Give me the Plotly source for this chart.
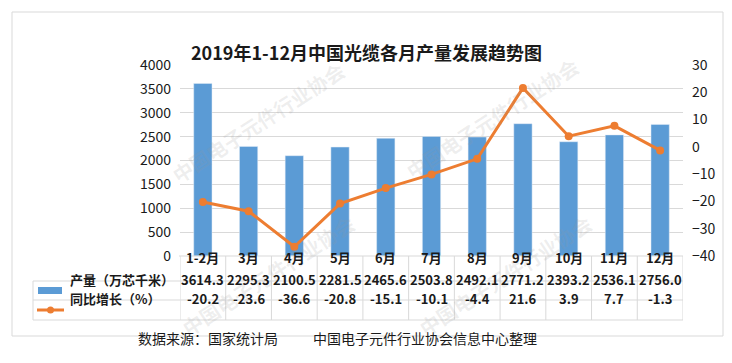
import plotly.graph_objects as go

categories = ["1-2月", "3月", "4月", "5月", "6月", "7月", "8月", "9月", "10月", "11月", "12月"]
production = [3614.3, 2295.3, 2100.5, 2281.5, 2465.6, 2503.8, 2492.1, 2771.2, 2393.2, 2536.1, 2756.0]
growth = [-20.2, -23.6, -36.6, -20.8, -15.1, -10.1, -4.4, 21.6, 3.9, 7.7, -1.3]
left_ticks = [0, 500, 1000, 1500, 2000, 2500, 3000, 3500, 4000]
right_ticks = [-40, -30, -20, -10, 0, 10, 20, 30]
series_names = ["产量（万芯千米）", "同比增长（%）"]

BLUE = "#5B9BD5"
ORANGE = "#ED7D31"
GRID = "#D9D9D9"
FONT = "Noto Sans CJK SC"
TEXT = "#1a1a1a"

OFF = 8  # page body margin
W, H = 732 - OFF, 363 - OFF
L, R, T, B = 180, 683, 65, 256  # in window pixels


def px(x):
    return (x - L) / (R - L)


def py(y):
    return (B - y) / (B - T)


fig = go.Figure()
fig.add_trace(go.Bar(x=categories, y=production, marker_color=BLUE, name=series_names[0],
                     width=0.4, showlegend=False))
fig.add_trace(go.Scatter(x=categories, y=growth, yaxis="y2", mode="lines+markers",
                         line=dict(color=ORANGE, width=3), marker=dict(size=8, color=ORANGE),
                         name=series_names[1], showlegend=False))

shapes = []
# outer border
shapes.append(dict(type="rect", xref="paper", yref="paper", x0=px(12), x1=px(723), y0=py(12), y1=py(336),
                   line=dict(color="#D9D9D9", width=1), fillcolor="rgba(0,0,0,0)", layer="above"))
# table horizontal lines
for yv, x0 in [(B, 179), (281, 33), (300, 33), (320, 33)]:
    shapes.append(dict(type="line", xref="paper", yref="paper", x0=px(x0), x1=1, y0=py(yv), y1=py(yv),
                       line=dict(color=GRID, width=1)))
# table vertical lines
n = len(categories)
for k in range(n + 1):
    shapes.append(dict(type="line", xref="x", yref="paper", x0=k - 0.5, x1=k - 0.5, y0=py(B), y1=py(320),
                       line=dict(color=GRID, width=1)))
shapes.append(dict(type="line", xref="paper", yref="paper", x0=px(33), x1=px(33), y0=py(281), y1=py(320),
                   line=dict(color=GRID, width=1)))
# legend symbols
shapes.append(dict(type="rect", xref="paper", yref="paper", x0=px(38), x1=px(62), y0=py(294), y1=py(287),
                   line=dict(width=0), fillcolor=BLUE))
shapes.append(dict(type="line", xref="paper", yref="paper", x0=px(37), x1=px(64), y0=py(310), y1=py(310),
                   line=dict(color=ORANGE, width=3)))
shapes.append(dict(type="circle", xref="paper", yref="paper", x0=px(47), x1=px(54), y0=py(313.5), y1=py(306.5),
                   line=dict(width=0), fillcolor=ORANGE))

ann = []
# faint watermarks
for cx, cy in [(258, 122), (492, 118), (268, 275), (505, 275)]:
    ann.append(dict(x=px(cx), y=py(cy), xref="paper", yref="paper", text="<b>中国电子元件行业协会</b>",
                    showarrow=False, textangle=-33, xanchor="center", yanchor="middle",
                    font=dict(family=FONT, size=20, color="rgba(150,150,150,0.16)")))

cell_font = dict(family=FONT, size=13, color=TEXT)
for i, c in enumerate(categories):
    ann.append(dict(x=c, y=py(268.5), xref="x", yref="paper", text="<b>%s</b>" % c, showarrow=False,
                    font=cell_font))
    ann.append(dict(x=c, y=py(290.5), xref="x", yref="paper", text="<b>%.1f</b>" % production[i],
                    showarrow=False, font=cell_font))
    ann.append(dict(x=c, y=py(310), xref="x", yref="paper", text="<b>%.1f</b>" % growth[i],
                    showarrow=False, font=cell_font))
ann.append(dict(x=px(68), y=py(290.5), xref="paper", yref="paper", text="<b>%s</b>" % series_names[0],
                showarrow=False, xanchor="left", font=cell_font))
ann.append(dict(x=px(68), y=py(310), xref="paper", yref="paper", text="<b>%s</b>" % series_names[1],
                showarrow=False, xanchor="left", font=cell_font))
ann.append(dict(x=px(366), y=py(37), xref="paper", yref="paper",
                text="<b>2019年1-12月中国光缆各月产量发展趋势图</b>", showarrow=False,
                font=dict(family=FONT, size=18, color=TEXT)))
ann.append(dict(x=px(136), y=py(350), xref="paper", yref="paper", text="数据来源：国家统计局",
                showarrow=False, xanchor="left", font=dict(family=FONT, size=14, color=TEXT)))
ann.append(dict(x=px(311), y=py(350), xref="paper", yref="paper", text="中国电子元件行业协会信息中心整理",
                showarrow=False, xanchor="left", font=dict(family=FONT, size=14, color=TEXT)))

tick_font = dict(family=FONT, size=14, color=TEXT)
fig.update_layout(
    width=W, height=H,
    margin=dict(l=L - OFF, r=732 - R, t=T - OFF, b=363 - B, pad=0),
    paper_bgcolor="white", plot_bgcolor="white",
    bargap=0.6,
    xaxis=dict(type="category", showticklabels=False, showgrid=False, ticks="", range=[-0.5, n - 0.5]),
    yaxis=dict(range=[0, 4000], tickvals=left_ticks, showgrid=True, gridcolor=GRID, gridwidth=1,
               zeroline=False, tickfont=tick_font, tickprefix="<b>", ticksuffix="</b>", ticklabelstandoff=8),
    yaxis2=dict(range=[-40, 30], tickvals=right_ticks, overlaying="y", side="right", showgrid=False,
                zeroline=False, tickfont=tick_font, tickprefix="<b>", ticksuffix="</b>", ticklabelstandoff=8),
    shapes=shapes,
    annotations=ann,
    font=dict(family=FONT),
)

fig.write_html("out.html")
